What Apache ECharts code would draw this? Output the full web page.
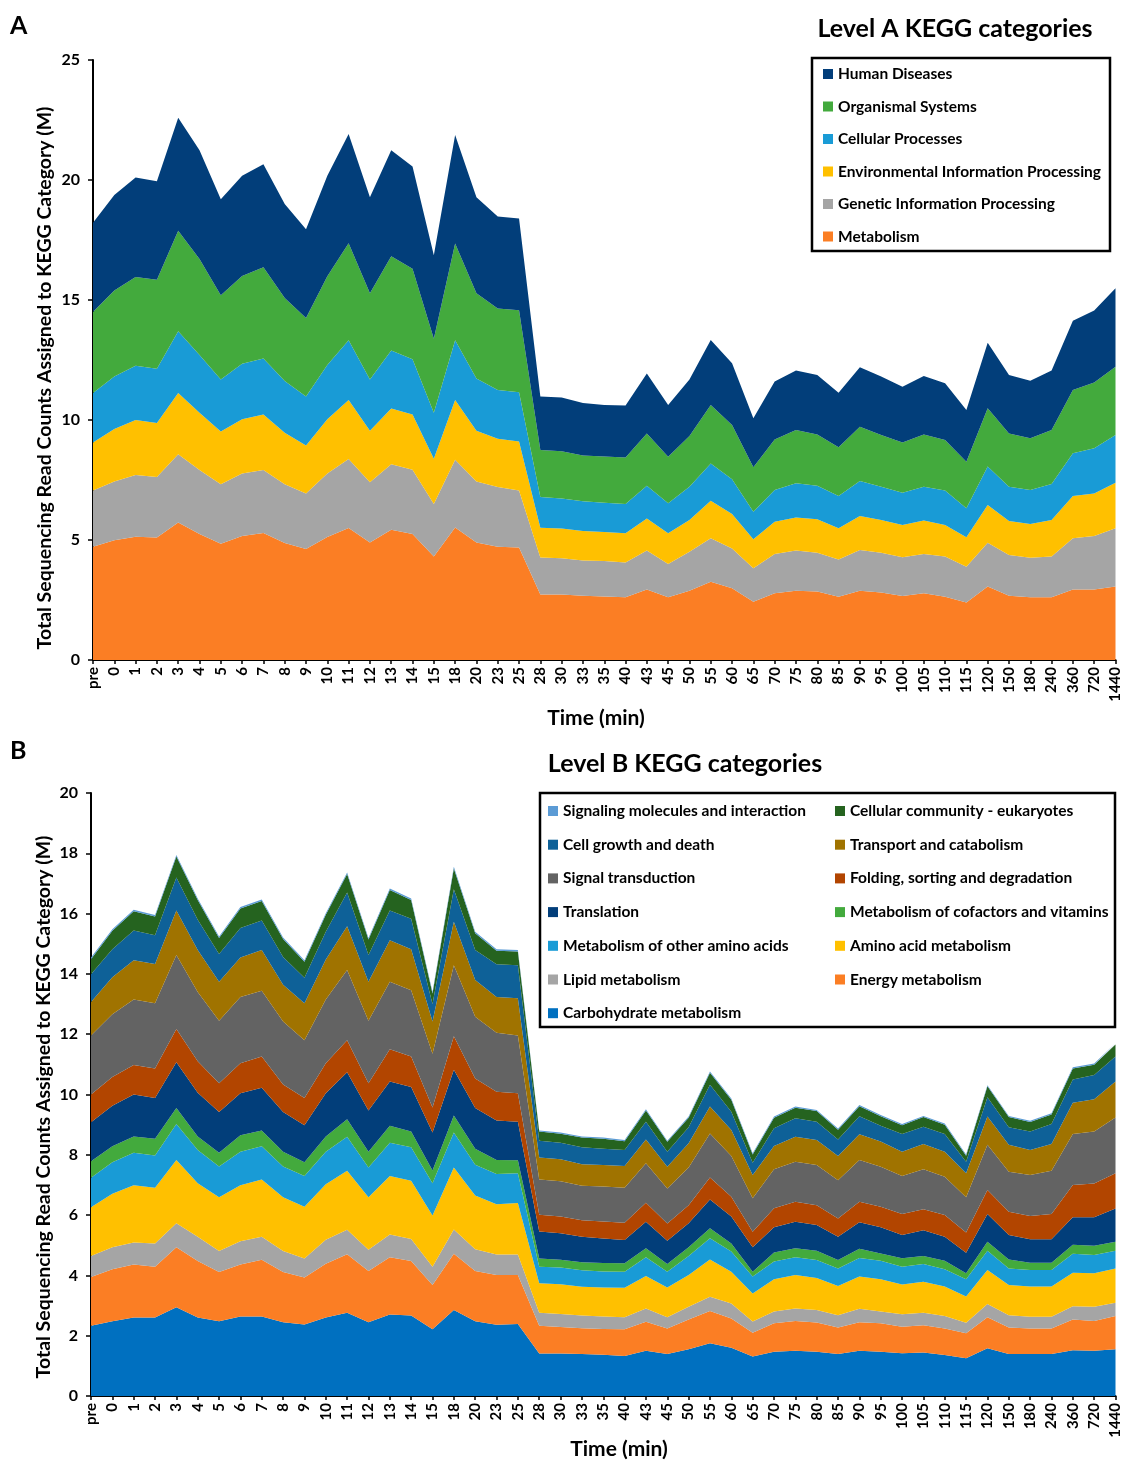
<!DOCTYPE html>
<html>
<head>
<meta charset="utf-8">
<script src="https://cdn.jsdelivr.net/npm/echarts@6/dist/echarts.min.js"></script>
<style>
  html, body { margin: 0; padding: 0; background: #fff; }
  #chart { width: 1123px; height: 1461px; }
</style>
</head>
<body>
<div id="chart"></div>
<script>
// time points (min)
const categories = ['pre','0','1','2','3','4','5','6','7','8','9','10','11','12','13','14','15','18','20','23','25',
  '28','30','33','35','40','43','45','50','55','60','65','70','75','80','85','90','95','100','105','110','115','120',
  '150','180','240','360','720','1440'];

// Level A (read counts, M)
const metabolismA = [4.72,4.99,5.14,5.1,5.73,5.25,4.84,5.17,5.29,4.87,4.62,5.13,5.5,4.9,5.43,5.25,4.31,5.52,4.9,4.72,
  4.69,2.73,2.73,2.68,2.65,2.61,2.94,2.61,2.89,3.26,2.99,2.43,2.78,2.89,2.85,2.64,2.89,2.81,2.67,2.78,
  2.64,2.4,3.06,2.68,2.61,2.61,2.94,2.94,3.06];
const geneticA = [2.34,2.45,2.57,2.52,2.84,2.67,2.48,2.6,2.63,2.45,2.32,2.64,2.87,2.51,2.73,2.68,2.19,2.82,2.54,2.49,
  2.37,1.54,1.51,1.47,1.47,1.45,1.62,1.39,1.62,1.81,1.66,1.39,1.64,1.67,1.62,1.55,1.69,1.66,1.61,1.64,
  1.67,1.49,1.83,1.7,1.65,1.7,2.13,2.23,2.43];
const environmentalA = [2.0,2.18,2.29,2.26,2.56,2.38,2.2,2.26,2.31,2.15,2.0,2.26,2.46,2.14,2.32,2.3,1.89,2.49,2.11,2.01,
  2.04,1.24,1.24,1.22,1.21,1.22,1.34,1.28,1.32,1.57,1.43,1.21,1.34,1.38,1.39,1.3,1.42,1.36,1.35,1.39,
  1.32,1.22,1.57,1.41,1.41,1.52,1.76,1.77,1.9];
const cellularA = [2.07,2.19,2.26,2.26,2.57,2.41,2.17,2.31,2.33,2.16,2.04,2.26,2.49,2.14,2.42,2.3,1.91,2.49,2.18,2.03,
  2.06,1.28,1.25,1.24,1.22,1.22,1.36,1.25,1.39,1.55,1.45,1.15,1.32,1.42,1.4,1.34,1.46,1.39,1.34,1.41,
  1.43,1.21,1.6,1.43,1.41,1.5,1.78,1.88,1.99];
const organismalA = [3.37,3.59,3.7,3.7,4.19,4.0,3.51,3.66,3.8,3.45,3.27,3.7,4.04,3.59,3.92,3.77,3.09,4.03,3.55,3.4,
  3.41,1.96,1.97,1.91,1.93,1.94,2.18,1.94,2.11,2.44,2.26,1.85,2.11,2.22,2.14,2.03,2.26,2.16,2.09,2.18,
  2.11,1.94,2.43,2.22,2.16,2.25,2.64,2.74,2.84];
const humanA = [3.72,3.98,4.14,4.11,4.7,4.53,4.0,4.18,4.3,3.92,3.7,4.19,4.56,4.0,4.42,4.26,3.47,4.52,4.0,3.83,
  3.83,2.23,2.24,2.19,2.15,2.16,2.5,2.16,2.36,2.7,2.57,2.04,2.41,2.48,2.48,2.28,2.48,2.43,2.33,2.43,
  2.36,2.16,2.73,2.44,2.4,2.48,2.89,3.0,3.27];

// Level B (read counts, M)
const carbB = [2.33,2.48,2.6,2.6,2.94,2.6,2.48,2.64,2.64,2.45,2.37,2.6,2.76,2.45,2.7,2.67,2.21,2.85,2.48,2.36,
  2.39,1.41,1.41,1.39,1.37,1.33,1.5,1.39,1.55,1.75,1.6,1.31,1.47,1.5,1.47,1.39,1.5,1.47,1.42,1.44,
  1.36,1.25,1.58,1.39,1.39,1.39,1.52,1.5,1.55];
const energyB = [1.62,1.72,1.76,1.69,1.99,1.88,1.63,1.72,1.88,1.66,1.56,1.79,1.94,1.7,1.9,1.81,1.47,1.87,1.67,1.65,
  1.62,0.92,0.88,0.86,0.85,0.88,0.96,0.85,0.99,1.07,0.97,0.79,0.94,0.99,0.97,0.88,0.95,0.94,0.88,0.91,
  0.88,0.83,1.03,0.88,0.85,0.85,1.02,0.99,1.1];
const lipidB = [0.69,0.73,0.73,0.77,0.8,0.8,0.7,0.77,0.76,0.7,0.63,0.79,0.81,0.7,0.76,0.73,0.61,0.8,0.72,0.68,
  0.68,0.43,0.43,0.42,0.42,0.4,0.44,0.37,0.42,0.47,0.5,0.37,0.39,0.41,0.41,0.41,0.44,0.39,0.41,0.41,
  0.41,0.35,0.44,0.41,0.39,0.39,0.44,0.47,0.44];
const aminoB = [1.62,1.78,1.9,1.85,2.1,1.78,1.78,1.86,1.9,1.78,1.72,1.84,1.96,1.74,1.94,1.93,1.7,2.06,1.78,1.67,
  1.71,0.98,0.99,0.95,0.96,0.98,1.08,0.99,1.05,1.24,1.05,0.93,1.07,1.11,1.06,0.97,1.07,1.07,0.99,1.03,
  0.98,0.87,1.13,1.0,1.0,1.0,1.11,1.11,1.14];
const otherAminoB = [0.98,1.04,1.08,1.07,1.19,1.1,1.02,1.11,1.1,1.02,1.02,1.08,1.13,0.99,1.1,1.11,1.07,1.16,1.02,1.0,
  0.99,0.55,0.55,0.55,0.53,0.53,0.62,0.52,0.63,0.7,0.67,0.56,0.59,0.59,0.6,0.58,0.62,0.62,0.59,0.59,
  0.57,0.57,0.64,0.55,0.55,0.55,0.63,0.61,0.59];
const cofactorB = [0.55,0.53,0.54,0.55,0.53,0.45,0.46,0.55,0.53,0.49,0.45,0.51,0.58,0.52,0.56,0.52,0.42,0.56,0.53,0.47,
  0.43,0.27,0.26,0.27,0.28,0.28,0.3,0.26,0.29,0.33,0.27,0.16,0.3,0.3,0.31,0.28,0.3,0.24,0.28,0.26,
  0.29,0.2,0.3,0.3,0.24,0.24,0.3,0.3,0.3];
const translationB = [1.29,1.35,1.39,1.35,1.52,1.45,1.35,1.39,1.41,1.32,1.23,1.43,1.56,1.37,1.47,1.48,1.26,1.52,1.35,1.31,
  1.28,0.9,0.88,0.84,0.81,0.77,0.88,0.77,0.8,0.96,0.89,0.81,0.84,0.88,0.85,0.77,0.88,0.87,0.77,0.86,
  0.79,0.68,0.92,0.81,0.78,0.78,0.91,0.95,1.1];
const foldingB = [0.92,0.95,0.98,0.98,1.1,1.04,0.95,1.0,1.04,0.91,0.9,1.0,1.06,0.9,1.07,1.01,0.83,1.11,0.98,0.95,
  0.94,0.55,0.55,0.55,0.57,0.58,0.63,0.57,0.6,0.73,0.66,0.52,0.63,0.66,0.66,0.61,0.68,0.68,0.7,0.69,
  0.72,0.67,0.79,0.77,0.77,0.84,1.07,1.12,1.17];
const signalB = [1.96,2.08,2.17,2.17,2.46,2.3,2.08,2.19,2.18,2.09,1.92,2.11,2.33,2.08,2.24,2.2,1.78,2.36,2.05,1.96,
  1.92,1.17,1.17,1.14,1.16,1.16,1.31,1.16,1.25,1.46,1.35,1.11,1.29,1.33,1.33,1.27,1.39,1.32,1.26,1.33,
  1.27,1.17,1.5,1.33,1.36,1.43,1.69,1.72,1.85];
const transportB = [1.11,1.23,1.3,1.3,1.47,1.39,1.29,1.31,1.35,1.22,1.23,1.33,1.45,1.29,1.38,1.36,1.07,1.44,1.22,1.18,
  1.23,0.73,0.73,0.72,0.71,0.72,0.79,0.72,0.8,0.89,0.86,0.77,0.77,0.83,0.83,0.8,0.85,0.84,0.8,0.84,
  0.83,0.8,0.94,0.89,0.83,0.89,1.04,1.07,1.19];
const cellGrowthB = [0.92,0.93,0.99,0.95,1.1,1.01,0.92,0.98,0.98,0.92,0.84,0.92,1.12,0.89,0.98,1.01,0.58,1.08,0.99,1.09,
  1.1,0.56,0.55,0.56,0.54,0.53,0.59,0.5,0.53,0.72,0.61,0.41,0.59,0.61,0.61,0.55,0.6,0.52,0.59,0.57,
  0.59,0.38,0.64,0.58,0.61,0.66,0.77,0.81,0.83];
const communityB = [0.5,0.61,0.64,0.62,0.69,0.65,0.53,0.65,0.65,0.6,0.53,0.56,0.61,0.51,0.68,0.62,0.35,0.69,0.56,0.45,
  0.45,0.3,0.3,0.32,0.33,0.29,0.37,0.33,0.32,0.4,0.4,0.27,0.35,0.35,0.35,0.32,0.33,0.32,0.29,0.32,
  0.31,0.2,0.36,0.34,0.32,0.32,0.36,0.34,0.4];
const signalingB = [0.05,0.05,0.05,0.05,0.05,0.05,0.05,0.05,0.05,0.05,0.05,0.05,0.05,0.05,0.05,0.05,0.05,0.05,0.05,0.05,
  0.05,0.04,0.04,0.04,0.04,0.04,0.04,0.04,0.04,0.04,0.04,0.04,0.04,0.04,0.04,0.04,0.04,0.04,0.04,0.04,
  0.04,0.04,0.04,0.04,0.04,0.04,0.04,0.04,0.04];

const FONT = 'Lato, "Open Sans", sans-serif';
const Y_TITLE = 'Total Sequencing Read Counts Assigned to KEGG Category (M)';

const chart = echarts.init(document.getElementById('chart'), null, { renderer: 'canvas' });

function area(name, data, color, idx) {
    return {
        name: name,
        type: 'line',
        stack: idx === 0 ? 'A' : 'B',
        xAxisIndex: idx,
        yAxisIndex: idx,
        data: data,
        symbol: 'none',
        lineStyle: { width: 0 },
        itemStyle: { color: color },
        areaStyle: { color: color, opacity: 1 },
        emphasis: { disabled: true },
        animation: false
    };
}

function xAxis(idx) {
    return {
        type: 'category',
        gridIndex: idx,
        data: categories,
        boundaryGap: false,
        axisLine: { lineStyle: { color: '#000', width: 2 } },
        axisTick: { show: true, length: 4, lineStyle: { color: '#000', width: 1.5 } },
        axisLabel: { interval: 0, rotate: 90, margin: 7, fontFamily: FONT, fontWeight: 'bold', fontSize: 15, color: '#000' },
        splitLine: { show: false }
    };
}

function yAxis(idx, max, step) {
    return {
        type: 'value',
        gridIndex: idx,
        min: 0,
        max: max,
        interval: step,
        axisLine: { show: true, lineStyle: { color: '#000', width: 2 } },
        axisTick: { show: true, length: 5, lineStyle: { color: '#000', width: 1.5 } },
        axisLabel: { margin: 13, fontFamily: FONT, fontWeight: 'bold', fontSize: 16, color: '#000' },
        splitLine: { show: false }
    };
}

function label(text, x, y, size, rotated) {
    return {
        type: 'text', x: x, y: y, rotation: rotated ? Math.PI / 2 : 0,
        style: { text: text, font: 'bold ' + size + 'px ' + FONT, fill: '#000', align: 'center', verticalAlign: 'middle' }
    };
}

const legendText = { fontFamily: FONT, fontWeight: 'bold', fontSize: 15.5, color: '#000' };

const option = {
    backgroundColor: '#fff',
    textStyle: { fontFamily: FONT },
    grid: [
        { left: 93, right: 5, top: 60, height: 600 },
        { left: 91, right: 5, top: 793, height: 603 }
    ],
    xAxis: [xAxis(0), xAxis(1)],
    yAxis: [yAxis(0, 25, 5), yAxis(1, 20, 2)],
    legend: [
        {
            data: ['Human Diseases', 'Organismal Systems', 'Cellular Processes',
                'Environmental Information Processing', 'Genetic Information Processing', 'Metabolism'],
            orient: 'vertical', left: 818, top: 61, icon: 'rect',
            itemWidth: 10, itemHeight: 10, itemGap: 16.5, selectedMode: false,
            textStyle: legendText
        },
        {
            data: ['Signaling molecules and interaction', 'Cell growth and death', 'Signal transduction',
                'Translation', 'Metabolism of other amino acids', 'Lipid metabolism', 'Carbohydrate metabolism'],
            orient: 'vertical', left: 543, top: 798, icon: 'rect',
            itemWidth: 10, itemHeight: 10, itemGap: 17.7, selectedMode: false,
            textStyle: legendText
        },
        {
            data: ['Cellular community - eukaryotes', 'Transport and catabolism', 'Folding, sorting and degradation',
                'Metabolism of cofactors and vitamins', 'Amino acid metabolism', 'Energy metabolism'],
            orient: 'vertical', left: 830, top: 798, icon: 'rect',
            itemWidth: 10, itemHeight: 10, itemGap: 17.7, selectedMode: false,
            textStyle: legendText
        }
    ],
    graphic: [
        { type: 'text', x: 10, y: 13, style: { text: 'A', font: 'bold 25px ' + FONT, fill: '#000' } },
        { type: 'text', x: 10, y: 738, style: { text: 'B', font: 'bold 25px ' + FONT, fill: '#000' } },
        label('Level A KEGG categories', 955, 29, 25, false),
        label('Level B KEGG categories', 685, 764, 25, false),
        label('Time (min)', 596, 718, 21, false),
        label('Time (min)', 619, 1449, 21, false),
        label(Y_TITLE, 45, 378, 19.5, true),
        label(Y_TITLE, 44, 1107, 19.5, true),
        { type: 'rect', z: 10, shape: { x: 812, y: 58, width: 298, height: 193 }, style: { fill: 'none', stroke: '#000', lineWidth: 2.5 } },
        { type: 'rect', z: 10, shape: { x: 540, y: 793, width: 575, height: 234 }, style: { fill: 'none', stroke: '#000', lineWidth: 2.5 } }
    ],
    series: [
        area('Metabolism', metabolismA, '#FB7E24', 0),
        area('Genetic Information Processing', geneticA, '#A5A5A5', 0),
        area('Environmental Information Processing', environmentalA, '#FFC000', 0),
        area('Cellular Processes', cellularA, '#199BD6', 0),
        area('Organismal Systems', organismalA, '#43AA3D', 0),
        area('Human Diseases', humanA, '#023E7A', 0),

        area('Carbohydrate metabolism', carbB, '#0070C0', 1),
        area('Energy metabolism', energyB, '#FB7E24', 1),
        area('Lipid metabolism', lipidB, '#A5A5A5', 1),
        area('Amino acid metabolism', aminoB, '#FFC000', 1),
        area('Metabolism of other amino acids', otherAminoB, '#199BD6', 1),
        area('Metabolism of cofactors and vitamins', cofactorB, '#43AA3D', 1),
        area('Translation', translationB, '#023E7A', 1),
        area('Folding, sorting and degradation', foldingB, '#B24500', 1),
        area('Signal transduction', signalB, '#636363', 1),
        area('Transport and catabolism', transportB, '#A07300', 1),
        area('Cell growth and death', cellGrowthB, '#0E6198', 1),
        area('Cellular community - eukaryotes', communityB, '#25631F', 1),
        area('Signaling molecules and interaction', signalingB, '#5B9BD5', 1)
    ]
};

chart.setOption(option);

window.addEventListener('resize', function () {
    chart.resize();
});
</script>
</body>
</html>
